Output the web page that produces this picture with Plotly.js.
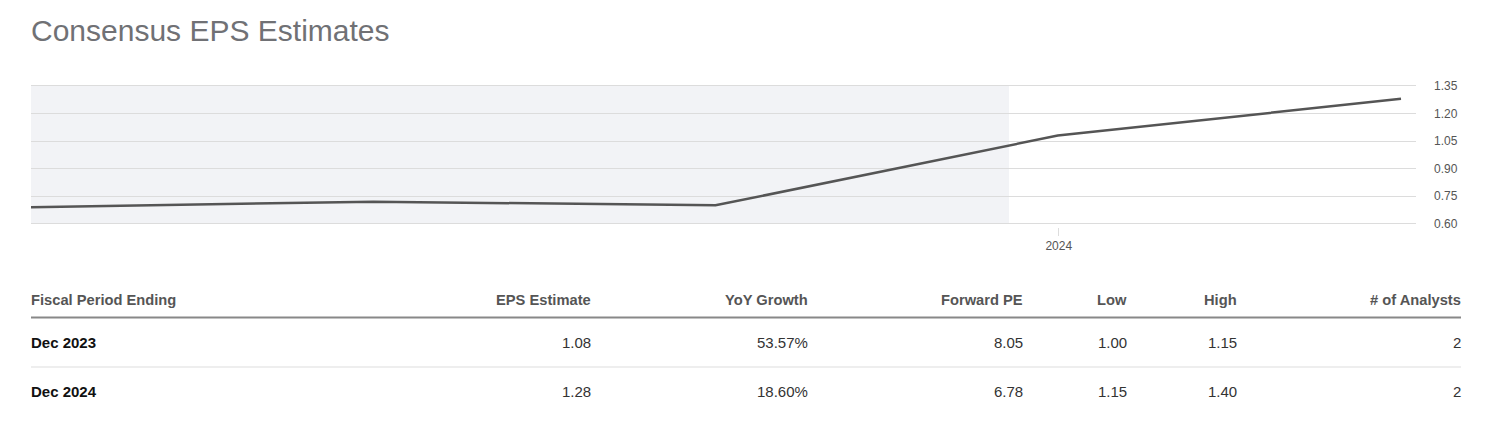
<!DOCTYPE html>
<html>
<head>
<meta charset="utf-8">
<script src="https://cdn.plot.ly/plotly-3.0.1.min.js"></script>
<style>
  html, body { margin: 0; padding: 0; background: #fff; }
  #chart { width: 1487px; height: 439px; }
</style>
</head>
<body>
<div id="chart"></div>
<script>
// EPS line (fiscal year ends)
let periods = ["2020-12-31", "2021-12-31", "2022-12-31", "2023-12-31", "2024-12-31"];
let eps = [0.69, 0.72, 0.70, 1.08, 1.28];

// shaded "actuals" area ends here
let shadeStart = "2020-12-31";
let shadeEnd = "2023-11-09";

// table under the chart
let headers = ["Fiscal Period Ending", "EPS Estimate", "YoY Growth", "Forward PE", "Low", "High", "# of Analysts"];
let fiscalPeriods = ["Dec 2023", "Dec 2024"];
let epsEstimates = ["1.08", "1.28"];
let yoyGrowth = ["53.57%", "18.60%"];
let forwardPE = ["8.05", "6.78"];
let lows = ["1.00", "1.15"];
let highs = ["1.15", "1.40"];
let analysts = ["2", "2"];

// plot area in page pixels, used to place the table in paper coords
const L = 31, R = 1416, T = 83, B = 227;
const px = x => (x - L) / (R - L);
const py = y => (B - y) / (B - T);

const font = "Liberation Sans, Arial, sans-serif";

let trace1 = {
  x: periods,
  y: eps,
  type: "scatter",
  mode: "lines",
  line: { color: "#555555", width: 2.5 },
  hoverinfo: "skip"
};

// table text
let annotations = [];
let colRight = [null, 591, 808, 1023, 1127, 1237, 1461];
let columns = [fiscalPeriods, epsEstimates, yoyGrowth, forwardPE, lows, highs, analysts];
let rowY = [342, 392];

headers.forEach((h, i) => {
  annotations.push({
    text: "<b>" + h + "</b>",
    xref: "paper", yref: "paper",
    x: i === 0 ? px(L) : px(colRight[i]),
    y: py(300),
    xanchor: i === 0 ? "left" : "right",
    yanchor: "middle",
    showarrow: false,
    borderpad: 0, borderwidth: 0,
    font: { family: font, size: 14.7, color: "#555555" }
  });
});

columns.forEach((col, i) => {
  col.forEach((val, r) => {
    annotations.push({
      text: i === 0 ? "<b>" + val + "</b>" : val,
      xref: "paper", yref: "paper",
      x: i === 0 ? px(L) : px(colRight[i]),
      y: py(rowY[r]),
      xanchor: i === 0 ? "left" : "right",
      yanchor: "middle",
      showarrow: false,
      borderpad: 0, borderwidth: 0,
      font: { family: font, size: 15, color: i === 0 ? "#111111" : "#333333" }
    });
  });
});

let shapes = [
  {
    type: "rect", xref: "x", yref: "y",
    x0: shadeStart, x1: shadeEnd, y0: 0.6, y1: 1.35,
    fillcolor: "#f2f3f6", line: { width: 0 }, layer: "below"
  },
  {
    type: "line", xref: "paper", yref: "paper",
    x0: px(31), x1: px(1461), y0: py(317.5), y1: py(317.5),
    line: { color: "#888888", width: 2 }
  },
  {
    type: "line", xref: "paper", yref: "paper",
    x0: px(31), x1: px(1461), y0: py(367), y1: py(367),
    line: { color: "#dddddd", width: 1 }
  }
];

let layout = {
  width: 1487,
  height: 439,
  margin: { l: L, r: 1487 - R, t: T, b: 439 - B },
  paper_bgcolor: "#ffffff",
  plot_bgcolor: "#ffffff",
  showlegend: false,
  font: { family: font, color: "#555555" },
  title: {
    text: "Consensus EPS Estimates",
    font: { family: font, size: 30, color: "#707175" },
    xref: "container", yref: "container",
    x: L / 1487, xanchor: "left",
    y: 1 - 30 / 439, yanchor: "middle"
  },
  xaxis: {
    type: "date",
    range: ["2020-12-31", "2025-01-16"],
    tickvals: ["2024-01-01"],
    ticktext: ["2024"],
    ticks: "outside",
    ticklen: 8,
    tickcolor: "#dddddd",
    tickwidth: 1,
    tickfont: { size: 12, color: "#555555" },
    showgrid: false,
    zeroline: false,
    showline: false,
    fixedrange: true
  },
  yaxis: {
    side: "right",
    range: [0.582, 1.3663],
    tick0: 0.6,
    dtick: 0.15,
    tickformat: ".2f",
    ticks: "",
    ticklabelstandoff: 17,
    tickfont: { size: 12, color: "#555555" },
    gridcolor: "#dcdcdc",
    gridwidth: 1,
    zeroline: false,
    showline: false,
    fixedrange: true
  },
  shapes: shapes,
  annotations: annotations
};

Plotly.newPlot("chart", [trace1], layout, { displayModeBar: false, staticPlot: true });
</script>
</body>
</html>
